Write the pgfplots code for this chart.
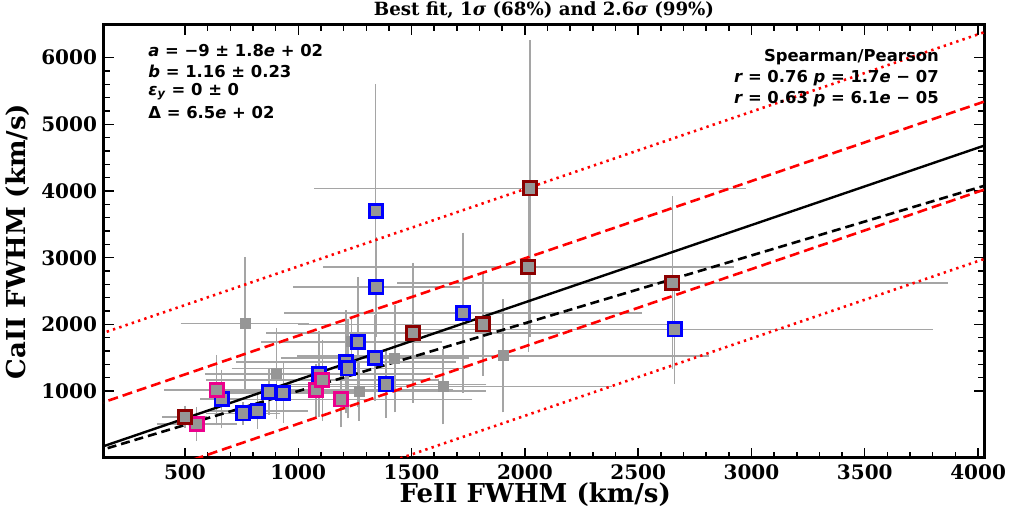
\documentclass[border=0pt]{standalone}
\usepackage{pgfplots}
\pgfplotsset{compat=1.18}
\usepackage{pgfplotstable}
\usepackage{fontspec}
\setmainfont{DejaVu Serif}
\newfontfamily\anfont{DejaVu Sans}
\usetikzlibrary{calc}
\definecolor{ebgray}{RGB}{165,165,165}
\definecolor{mkgray}{RGB}{150,150,150}
\definecolor{dred}{RGB}{139,0,0}

\pgfplotstableread{
x y ex ey
500 615 85 120
552 505 163 207
640 1015 218 480
662 880 80 390
757 666 150 120
821 705 208 220
765 2015 270 950
904 1265 300 630
872 990 250 300
934 975 300 400
1078 1015 590 350
1092 1255 490 600
1107 1165 500 560
1188 876 566 370
1210 1440 470 725
1220 1340 500 700
1264 1739 300 925
1235 1739 385 300
1269 1000 544 400
1338 1499 400 600
1426 1490 180 760
1387 1100 429 450
1507 1874 633 1000
1639 1070 730 520
1728 2174 775 1155
1816 2000 801 725
1904 1529 894 800
2651 2624 1200 1250
2661 1925 1125 770
1342 3703 0 1850
2022 4039 938 2180
1345 2564 355 700
2016 2864 893 1224
}\allpts

\pgfplotstableread{
x y
500 615
1507 1874
1816 2000
2651 2624
2022 4039
2016 2864
}\redpts

\pgfplotstableread{
x y
552 505
640 1015
1078 1015
1107 1165
1188 876
}\magpts

\pgfplotstableread{
x y
662 880
757 666
821 705
872 990
934 975
1092 1255
1210 1440
1220 1340
1264 1739
1338 1499
1387 1100
1728 2174
2661 1925
1342 3703
1345 2564
}\bluepts

\begin{document}
\begin{tikzpicture}
\begin{axis}[
  scale only axis, width=440pt, height=216.4pt,
  xmin=143, xmax=4026, ymin=0, ymax=6490,
  xtick={500,1000,...,4000}, ytick={1000,2000,...,6000},
  minor x tick num=4, minor y tick num=4,
  tick align=inside, xtick pos=both, ytick pos=both,
  major tick length=5pt, minor tick length=2.8pt,
  every tick/.style={black, line width=0.7pt},
  axis line style={line width=1.5pt},
  ticklabel style={font=\fontsize{10}{12}\selectfont\bfseries},
  /pgf/number format/assume math mode=true,
  scaled ticks=false, /pgf/number format/1000 sep={},
  xlabel={FeII FWHM (km/s)}, ylabel={CaII FWHM (km/s)},
  label style={font=\fontsize{13}{15}\selectfont\bfseries},
  xlabel style={at={(axis description cs:0.49,-0.0855)}, anchor=center},
  ylabel style={at={(axis description cs:-0.0977,0.5)}, anchor=center},
  clip=true,
]
\coordinate (SW) at (rel axis cs:0,0);
\coordinate (NE) at (rel axis cs:1,1);

\addplot[only marks, mark=square*, mark size=2.5pt, mark options={fill=mkgray, draw=mkgray},
  error bars/.cd, x dir=both, x explicit, y dir=both, y explicit,
  error bar style={ebgray, line width=0.75pt},
  error mark options={ebgray, mark size=1.6pt, line width=0.75pt}]
  table[x=x, y=y, x error=ex, y error=ey]{\allpts};

\addplot[only marks, mark=square*, mark size=3.3pt, mark options={fill=mkgray, draw=blue, line width=1.4pt}] table[x=x,y=y]{\bluepts};
\addplot[only marks, mark=square*, mark size=3.3pt, mark options={fill=mkgray, draw=magenta, line width=1.4pt}] table[x=x,y=y]{\magpts};
\addplot[only marks, mark=square*, mark size=3.3pt, mark options={fill=mkgray, draw=dred, line width=1.4pt}] table[x=x,y=y]{\redpts};

% fit lines
\addplot[black, line width=1.2pt] coordinates {(100,126) (4100,4766)};
\addplot[black, line width=1.3pt, dash pattern=on 4.5pt off 2.5pt] coordinates {(100,85) (4100,4153)};
\addplot[red, line width=1.3pt, dash pattern=on 5pt off 2.5pt] coordinates {(100,786) (4100,5426)};
\addplot[red, line width=1.3pt, dash pattern=on 5pt off 2.5pt] coordinates {(100,-534) (4100,4106)};
\addplot[red, line width=1.3pt, dash pattern=on 1.2pt off 2.1pt] coordinates {(100,1826) (4100,6466)};
\addplot[red, line width=1.3pt, dash pattern=on 1.2pt off 2.1pt] coordinates {(100,-1574) (4100,3066)};

\begin{scope}[every node/.style={font=\anfont\bfseries\fontsize{8.2}{10}\selectfont, inner sep=0pt}]
\node[anchor=west] at (axis description cs:0.05,0.942) {{\itshape a} = −9 ± 1.8{\itshape e} + 02};
\node[anchor=west] at (axis description cs:0.05,0.893) {{\itshape b} = 1.16 ± 0.23};
\node[anchor=west] at (axis description cs:0.05,0.847) {{\itshape ε}\textsubscript{\itshape y} = 0 ± 0};
\node[anchor=west] at (axis description cs:0.05,0.798) {Δ = 6.5{\itshape e} + 02};
\node[anchor=east] at (axis description cs:0.949,0.925) {Spearman/Pearson};
\node[anchor=east] at (axis description cs:0.949,0.878) {{\itshape r} = 0.76 {\itshape p} = 1.7{\itshape e} − 07};
\node[anchor=east] at (axis description cs:0.949,0.829) {{\itshape r} = 0.63 {\itshape p} = 6.1{\itshape e} − 05};
\end{scope}
\end{axis}
\path let \p1=(SW), \p2=(NE) in node[font=\fontsize{9.1}{11}\selectfont\bfseries, inner sep=0pt, anchor=center] at ({0.5*\x1+0.5*\x2},{\y2+7.5pt}) {Best fit, 1{\itshape σ} (68\%) and 2.6{\itshape σ} (99\%)};
\pgfresetboundingbox
\path[use as bounding box] ($(SW)+(-52pt,-28.65pt)$) rectangle ($(NE)+(12.5pt,12.5pt)$);
\end{tikzpicture}
\end{document}
